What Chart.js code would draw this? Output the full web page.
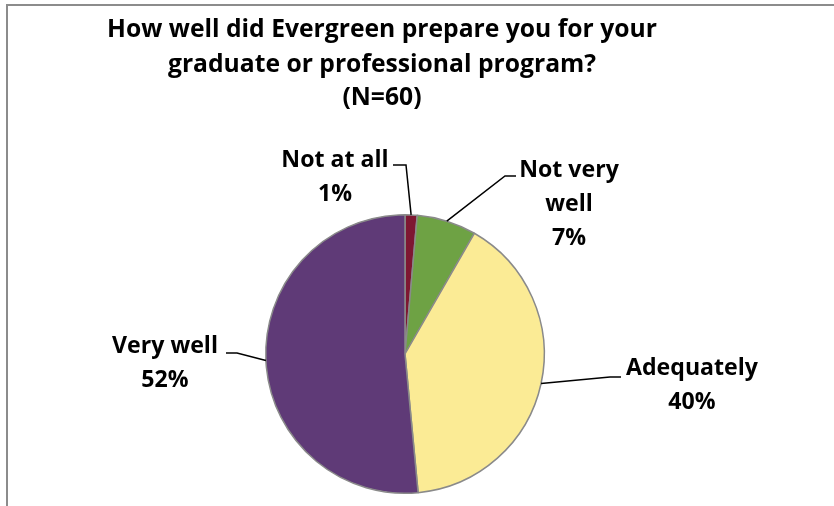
<!DOCTYPE html>
<html>
<head>
<meta charset="utf-8">
<script src="https://cdn.jsdelivr.net/npm/chart.js@4.4.0/dist/chart.umd.min.js"></script>
<style>
  html, body { margin: 0; padding: 0; background: #fff; }
  #wrap { width: 834px; height: 506px; position: relative; }
</style>
</head>
<body>
<div id="wrap"><canvas id="pie-chart"></canvas></div>
<script>
const titleLines = ['How well did Evergreen prepare you for your', 'graduate or professional program?', '(N=60)'];
const categories = ['Not at all', 'Not very well', 'Adequately', 'Very well'];
const percents = [1.4, 6.9, 40.2, 51.5];
const sliceColors = ['#7e1732', '#6ea244', '#fbeb95', '#5f3a77'];

// label text lines and where they sit (center x, first line y), plus leader elbow
const labelSetup = [
  { lines: ['Not at all', null], x: 335, y: 160, elbow: [406, 165], end: [393, 165] },
  { lines: ['Not very', 'well', null], x: 569, y: 170, elbow: [505, 176], end: [516, 176] },
  { lines: ['Adequately', null], x: 692, y: 368, elbow: [610, 377], end: [621, 377] },
  { lines: ['Very well', null], x: 165, y: 346, elbow: [237, 353], end: [226, 353] },
];

const FONT = '"Open Sans", Lato, sans-serif';

// pick a bold size so the sample text is about the width seen in the picture
function fitSize(ctx, text, width) {
  ctx.font = 'bold 20px ' + FONT;
  return 20 * width / ctx.measureText(text).width;
}

const annotate = {
  id: 'annotate',
  beforeDraw(chart) {
    const ctx = chart.ctx;
    ctx.save();
    ctx.fillStyle = '#fff';
    ctx.fillRect(0, 0, chart.width, chart.height);
    ctx.strokeStyle = '#8c8c8c';
    ctx.lineWidth = 2;
    ctx.beginPath();
    ctx.moveTo(7, chart.height);
    ctx.lineTo(7, 5);
    ctx.lineTo(chart.width, 5);
    ctx.stroke();
    ctx.restore();
  },
  afterDraw(chart) {
    const ctx = chart.ctx;
    ctx.save();
    ctx.fillStyle = '#000';
    ctx.textAlign = 'center';
    ctx.textBaseline = 'alphabetic';
    const tSize = fitSize(ctx, titleLines[0], 550);
    ctx.font = 'bold ' + tSize + 'px ' + FONT;
    const ty = [37, 72, 105];
    titleLines.forEach((t, i) => ctx.fillText(t, 382, ty[i]));

    ctx.textBaseline = 'middle';
    const arcs = chart.getDatasetMeta(0).data;
    const lSize = fitSize(ctx, 'Adequately', 132);
    ctx.font = 'bold ' + lSize + 'px ' + FONT;
    arcs.forEach((arc, i) => {
      const s = labelSetup[i];
      const mid = (arc.startAngle + arc.endAngle) / 2;
      const px = arc.x + Math.cos(mid) * arc.outerRadius;
      const py = arc.y + Math.sin(mid) * arc.outerRadius;
      ctx.strokeStyle = '#000';
      ctx.lineWidth = 1.5;
      ctx.beginPath();
      ctx.moveTo(px, py);
      ctx.lineTo(s.elbow[0], s.elbow[1]);
      ctx.lineTo(s.end[0], s.end[1]);
      ctx.stroke();
      s.lines.forEach((ln, j) => {
        const txt = ln === null ? Math.round(percents[i]) + '%' : ln;
        ctx.fillText(txt, s.x, s.y + j * 34);
      });
    });
    ctx.restore();
  }
};

new Chart(document.getElementById('pie-chart'), {
  type: 'pie',
  data: {
    labels: categories,
    datasets: [{
      data: percents,
      backgroundColor: sliceColors,
      borderColor: '#8a8a8a',
      borderWidth: 1.5,
    }],
  },
  options: {
    responsive: true,
    maintainAspectRatio: false,
    animation: false,
    layout: { padding: { top: 214, bottom: 12, left: 265, right: 289 } },
    plugins: {
      legend: { display: false },
      tooltip: { enabled: false },
      title: { display: false },
    },
  },
  plugins: [annotate],
});
</script>
</body>
</html>
